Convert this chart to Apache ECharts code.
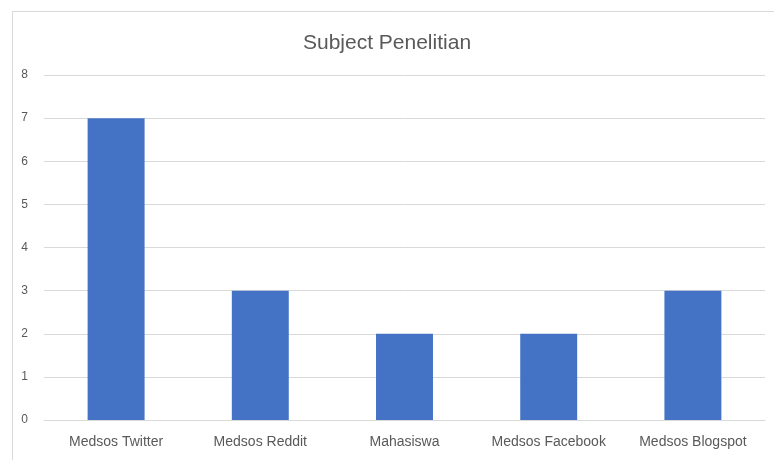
<!DOCTYPE html>
<html>
<head>
<meta charset="utf-8">
<script src="https://cdn.jsdelivr.net/npm/echarts@6/dist/echarts.min.js"></script>
<style>html,body{margin:0;padding:0;background:#fff;}#c{width:774px;height:460px;}</style>
</head>
<body>
<div id="c"></div>
<script>
const categories = ['Medsos Twitter', 'Medsos Reddit', 'Mahasiswa', 'Medsos Facebook', 'Medsos Blogspot'];
const values = [7, 3, 2, 2, 3];
const chartTitle = 'Subject Penelitian';

const chart = echarts.init(document.getElementById('c'));
chart.setOption({
  animation: false,
  backgroundColor: '#fff',
  graphic: [{
    type: 'rect', left: 10, top: 9,
    shape: { width: 780, height: 470 },
    style: { fill: 'none', stroke: '#d9d9d9', lineWidth: 1 }, silent: true, z: -1
  }],
  title: {
    text: chartTitle, left: 'center', top: 28,
    textStyle: { color: '#595959', fontSize: 21, fontWeight: 'normal', fontFamily: 'Liberation Sans, Arial, sans-serif' }
  },
  grid: { left: 44, right: 9, top: 75, bottom: 40, containLabel: false },
  xAxis: {
    type: 'category', data: categories,
    axisTick: { show: false },
    axisLine: { lineStyle: { color: '#d9d9d9' } },
    axisLabel: { interval: 0, hideOverlap: false, color: '#595959', fontSize: 14, margin: 15, fontFamily: 'Liberation Sans, Arial, sans-serif' }
  },
  yAxis: {
    type: 'value', min: 0, max: 8, interval: 1,
    axisLine: { show: false }, axisTick: { show: false },
    splitLine: { lineStyle: { color: '#d9d9d9' } },
    axisLabel: { color: '#595959', fontSize: 12, margin: 16, fontFamily: 'Liberation Sans, Arial, sans-serif' }
  },
  series: [{
    type: 'bar', data: values, barWidth: '39.5%',
    itemStyle: { color: '#4472c4' }
  }]
});
</script>
</body>
</html>
